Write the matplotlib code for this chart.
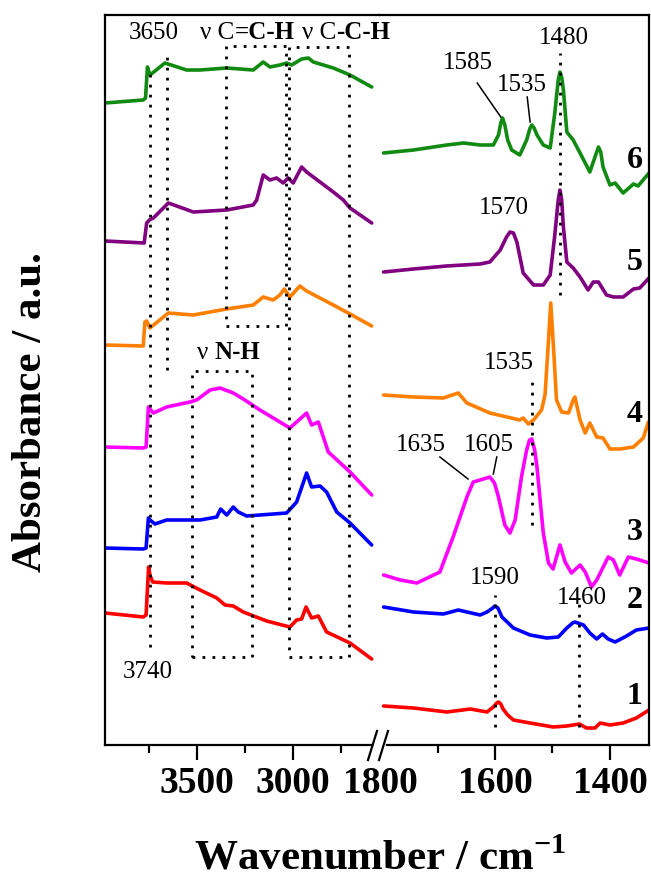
import matplotlib
matplotlib.use("Agg")
import matplotlib.pyplot as plt
from matplotlib.lines import Line2D

plt.rcParams['font.family'] = ['Liberation Serif', 'DejaVu Serif']
plt.rcParams['mathtext.fontset'] = 'custom'
plt.rcParams['mathtext.rm'] = 'Liberation Serif'
plt.rcParams['mathtext.bf'] = 'Liberation Serif:bold'

# ---- spectra (wavenumber / absorbance a.u., offset stacked) ----
# high wavenumber region (left part of the broken axis)
wn_hi_1 = [3979, 3780, 3765, 3752, 3745, 3731, 3658, 3554, 3484, 3397, 3354, 3311, 3259, 3137,
           3016, 2981, 2955, 2932, 2903, 2868, 2825, 2703, 2590]
ab_hi_1 = [1.32, 1.28, 1.30, 1.78, 1.70, 1.63, 1.62, 1.62, 1.55, 1.47, 1.40, 1.39, 1.33, 1.24,
           1.18, 1.25, 1.26, 1.38, 1.27, 1.29, 1.13, 1.02, 0.86]

wn_hi_2 = [3979, 3780, 3765, 3753, 3745, 3719, 3658, 3484, 3397, 3377, 3345, 3311, 3285, 3241,
           3033, 2981, 2929, 2903, 2859, 2825, 2772, 2703, 2590]
ab_hi_2 = [1.97, 1.96, 1.97, 2.27, 2.25, 2.21, 2.25, 2.25, 2.28, 2.36, 2.30, 2.38, 2.33, 2.29,
           2.32, 2.43, 2.72, 2.58, 2.59, 2.53, 2.33, 2.22, 2.00]

wn_hi_3 = [3979, 3780, 3765, 3753, 3745, 3727, 3658, 3536, 3502, 3432, 3380, 3311, 3259, 3172,
           3016, 2981, 2929, 2903, 2868, 2816, 2703, 2590]
ab_hi_3 = [2.98, 2.97, 2.98, 3.38, 3.36, 3.32, 3.38, 3.43, 3.45, 3.55, 3.57, 3.52, 3.46, 3.35,
           3.17, 3.23, 3.32, 3.20, 3.23, 2.93, 2.73, 2.50]

wn_hi_4 = [3979, 3780, 3771, 3762, 3745, 3649, 3519, 3345, 3207, 3155, 3103, 3068, 3045, 3016,
           2964, 2929, 2790, 2703, 2590]
ab_hi_4 = [4.00, 3.99, 4.23, 4.24, 4.17, 4.32, 4.30, 4.36, 4.40, 4.48, 4.45, 4.50, 4.56, 4.48,
           4.59, 4.54, 4.40, 4.31, 4.19]

wn_hi_5 = [3979, 3775, 3762, 3748, 3727, 3649, 3519, 3345, 3207, 3189, 3155, 3120, 3085, 3051,
           3025, 2999, 2955, 2929, 2894, 2790, 2738, 2703, 2590]
ab_hi_5 = [5.04, 5.02, 5.22, 5.25, 5.27, 5.42, 5.33, 5.35, 5.40, 5.45, 5.70, 5.65, 5.67, 5.62,
           5.67, 5.62, 5.78, 5.73, 5.68, 5.53, 5.45, 5.37, 5.22]

wn_hi_6 = [3979, 3780, 3768, 3758, 3745, 3725, 3667, 3554, 3484, 3345, 3207, 3155, 3120, 3068,
           3033, 3007, 2955, 2920, 2894, 2790, 2703, 2590]
ab_hi_6 = [6.42, 6.45, 6.47, 6.78, 6.70, 6.73, 6.82, 6.75, 6.75, 6.77, 6.75, 6.83, 6.78, 6.80,
           6.82, 6.80, 6.86, 6.87, 6.83, 6.77, 6.70, 6.58]

# low wavenumber region (right part)
wn_lo_1 = [1794, 1742, 1684, 1643, 1614, 1603, 1597, 1594, 1590, 1586, 1578, 1568, 1539, 1499,
           1475, 1453, 1441, 1426, 1417, 1400, 1377, 1354, 1332]
ab_lo_1 = [0.39, 0.37, 0.33, 0.36, 0.33, 0.38, 0.42, 0.43, 0.41, 0.36, 0.30, 0.25, 0.22, 0.18,
           0.19, 0.21, 0.17, 0.17, 0.22, 0.20, 0.22, 0.27, 0.35]

wn_lo_2 = [1794, 1742, 1690, 1664, 1626, 1614, 1604, 1600, 1595, 1588, 1568, 1539, 1510, 1490,
           1475, 1465, 1461, 1456, 1446, 1435, 1423, 1413, 1403, 1391, 1371, 1354, 1332]
ab_lo_2 = [1.38, 1.33, 1.31, 1.35, 1.30, 1.33, 1.37, 1.39, 1.37, 1.28, 1.17, 1.10, 1.07, 1.08,
           1.17, 1.22, 1.23, 1.22, 1.20, 1.12, 1.06, 1.11, 1.06, 1.03, 1.09, 1.15, 1.17]

wn_lo_3 = [1794, 1765, 1736, 1696, 1673, 1649, 1638, 1626, 1609, 1601, 1594, 1583, 1574, 1565,
           1554, 1545, 1540, 1536, 1531, 1527, 1516, 1507, 1499, 1487, 1478, 1467, 1452, 1443,
           1432, 1423, 1403, 1394, 1383, 1368, 1354, 1332]
ab_lo_3 = [1.70, 1.65, 1.62, 1.73, 2.08, 2.48, 2.63, 2.65, 2.68, 2.62, 2.48, 2.20, 2.12, 2.25,
           2.68, 2.95, 3.05, 3.06, 2.95, 2.78, 2.12, 1.82, 1.76, 2.00, 1.83, 1.72, 1.80, 1.73,
           1.58, 1.65, 1.88, 1.85, 1.70, 1.88, 1.86, 1.82]

wn_lo_4 = [1794, 1742, 1690, 1664, 1649, 1609, 1557, 1551, 1542, 1533, 1519, 1513, 1508, 1503,
           1498, 1493, 1484, 1472, 1464, 1461, 1452, 1443, 1435, 1423, 1412, 1400, 1383, 1359,
           1342, 1333]
ab_lo_4 = [3.50, 3.48, 3.47, 3.52, 3.42, 3.32, 3.25, 3.27, 3.21, 3.25, 3.35, 3.50, 3.95, 4.42,
           3.95, 3.45, 3.33, 3.32, 3.45, 3.48, 3.25, 3.12, 3.22, 3.08, 3.07, 2.96, 2.96, 2.98,
           3.07, 3.23]

wn_lo_5 = [1794, 1742, 1684, 1626, 1609, 1591, 1580, 1574, 1568, 1562, 1551, 1533, 1516, 1504,
           1496, 1490, 1487, 1484, 1481, 1475, 1464, 1452, 1438, 1429, 1420, 1406, 1394, 1377,
           1359, 1348, 1332]
ab_lo_5 = [4.73, 4.76, 4.79, 4.81, 4.83, 4.95, 5.08, 5.13, 5.12, 5.03, 4.72, 4.60, 4.60, 4.70,
           5.10, 5.45, 5.55, 5.45, 5.18, 4.83, 4.77, 4.68, 4.55, 4.63, 4.63, 4.50, 4.48, 4.48,
           4.56, 4.57, 4.67]

wn_lo_6 = [1794, 1742, 1684, 1655, 1626, 1603, 1594, 1590, 1587, 1583, 1578, 1571, 1557, 1545,
           1539, 1536, 1532, 1527, 1516, 1504, 1496, 1490, 1487, 1484, 1481, 1475, 1464, 1452,
           1435, 1423, 1420, 1416, 1412, 1400, 1391, 1377, 1359, 1351, 1332]
ab_lo_6 = [5.92, 5.95, 6.00, 6.02, 6.00, 6.00, 6.10, 6.22, 6.27, 6.20, 6.05, 5.95, 5.90, 6.05,
           6.17, 6.20, 6.17, 6.10, 6.00, 5.97, 6.32, 6.65, 6.73, 6.68, 6.55, 6.13, 6.05, 5.92,
           5.73, 5.93, 5.98, 5.93, 5.78, 5.60, 5.62, 5.52, 5.61, 5.59, 5.72]

colors = ['#ff0000', '#0000ff', '#ff00ff', '#ff8000', '#800080', '#108a10']
curve_names = ['1', '2', '3', '4', '5', '6']
name_y = [0.48, 1.45, 2.12, 3.30, 4.82, 5.85]

hi = [(wn_hi_1, ab_hi_1), (wn_hi_2, ab_hi_2), (wn_hi_3, ab_hi_3),
      (wn_hi_4, ab_hi_4), (wn_hi_5, ab_hi_5), (wn_hi_6, ab_hi_6)]
lo = [(wn_lo_1, ab_lo_1), (wn_lo_2, ab_lo_2), (wn_lo_3, ab_lo_3),
      (wn_lo_4, ab_lo_4), (wn_lo_5, ab_lo_5), (wn_lo_6, ab_lo_6)]

# ---- figure with a broken x axis ----
W, H = 651, 883
fig = plt.figure(figsize=(W / 100, H / 100), dpi=100)
axL = fig.add_axes([105 / W, 138 / H, (379 - 105) / W, 730 / H])
axR = fig.add_axes([379 / W, 138 / H, (649 - 379) / W, 730 / H])
axR.patch.set_visible(False)

for (x, y), c in zip(hi, colors):
    axL.plot(x, y, color=c, lw=2.6, solid_joinstyle='round', solid_capstyle='round')
for (x, y), c in zip(lo, colors):
    axR.plot(x, y, color=c, lw=2.6, solid_joinstyle='round', solid_capstyle='round')

axL.set_xlim(3979, 2552)
axR.set_xlim(1802, 1332)
for ax in (axL, axR):
    ax.set_ylim(0, 7.30)
    ax.set_yticks([])
    for s in ax.spines.values():
        s.set_linewidth(1.6)
axL.spines['right'].set_visible(False)
axR.spines['left'].set_visible(False)
axL.spines['bottom'].set_bounds(3979, 2588)
axR.spines['bottom'].set_bounds(1788, 1332)

axL.set_xticks([3500, 3000])
axL.set_xticks([3750, 3250, 2750], minor=True)
axL.set_xticklabels(['3500', '3000'], fontsize=27, fontweight='bold')
axR.set_xticks([1800, 1600, 1400])
axR.set_xticks([1700, 1500], minor=True)
axR.set_xticklabels(['1800', '1600', '1400'], fontsize=27, fontweight='bold')
axR.xaxis.get_major_ticks()[0].tick1line.set_visible(False)
for ax in (axL, axR):
    ax.tick_params(axis='x', which='major', direction='out', length=11, width=1.6, pad=4)
    ax.tick_params(axis='x', which='minor', direction='out', length=6, width=1.6)

# break marks
for x0 in (368, 379):
    fig.add_artist(Line2D([x0 / W, (x0 + 9) / W], [1 - 760 / H, 1 - 731 / H],
                          transform=fig.transFigure, color='k', lw=1.6))

fig.text(31 / W, 1 - 412 / H, 'Absorbance / a.u.', rotation=90, ha='center', va='center',
         fontsize=31, fontweight='bold')
fig.text(380 / W, 1 - 859 / H, r'Wavenumber / cm$^{\mathbf{-1}}$', ha='center', va='center',
         fontsize=31, fontweight='bold')

# ---- guide lines and boxes ----
dot = dict(color='k', lw=2, linestyle=(0, (1, 2.6)))
axL.plot([3745, 3745], [0.98, 6.75], **dot)
axL.plot([3656, 3656], [3.75, 6.93], **dot)
boxes = [(3349, 3036, 4.19, 6.99), (3021, 2708, 0.88, 6.98), (3526, 3214, 0.88, 3.74)]
for x0, x1, y0, y1 in boxes:
    axL.plot([x0, x1, x1, x0, x0], [y0, y0, y1, y1, y0], **dot)
axR.plot([1487, 1487], [4.50, 6.92], **dot)
axR.plot([1536, 1536], [2.20, 3.63], **dot)
axR.plot([1600, 1600], [0.18, 1.50], **dot)
axR.plot([1454, 1454], [0.18, 1.45], **dot)

# leader lines
for (x0, x1), (y0, y1) in [((1631, 1590), (6.62, 6.28)), ((1544, 1539), (6.48, 6.23)),
                           ((1696, 1647), (2.88, 2.66)), ((1597, 1603), (2.88, 2.71))]:
    axR.plot([x0, x1], [y0, y1], color='k', lw=1.1)

# ---- labels ----
fs = 18
axL.text(3724, 7.12, '3650', fontsize=fs, ha='center', va='center')
axL.text(3755, 0.73, '3740', fontsize=fs, ha='center', va='center')


def mixed(ax, x, y, parts):
    t = ax.text(x, y, parts[0][0], fontsize=fs, fontweight=parts[0][1],
                ha='left', va='center', clip_on=False)
    for s, w in parts[1:]:
        t = ax.annotate(s, xy=(1, 0), xycoords=t, fontsize=fs, fontweight=w,
                        ha='left', va='bottom', annotation_clip=False)


mixed(axL, 3484, 7.12, [('\u03bd C', 'normal'), ('=C-H', 'bold')])
mixed(axL, 2953, 7.12, [('\u03bd C', 'normal'), ('-C-H', 'bold')])
mixed(axL, 3500, 3.92, [('\u03bd ', 'normal'), ('N-H', 'bold')])

peak_labels = [('1480', 1480, 7.07), ('1585', 1647, 6.82), ('1535', 1553, 6.60),
               ('1570', 1584, 5.37), ('1535', 1576, 3.82), ('1635', 1730, 3.00),
               ('1605', 1610, 3.00), ('1590', 1600, 1.67), ('1460', 1449, 1.47)]
for s, x, y in peak_labels:
    axR.text(x, y, s, fontsize=fs, ha='center', va='center')

for s, y in zip(curve_names, name_y):
    axR.text(1357, y, s, fontsize=23, fontweight='bold', ha='center', va='center')

fig.savefig('out.png', dpi=100)
